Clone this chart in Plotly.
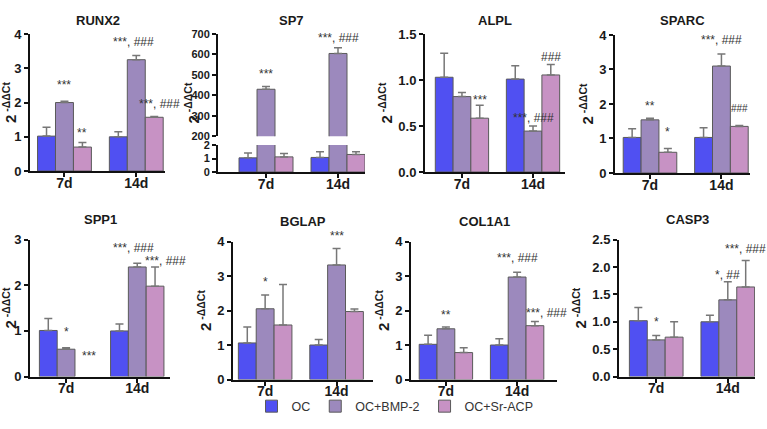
import plotly.graph_objects as go

W, H = 767, 429
FONT = "Liberation Sans, Arial, sans-serif"

groups = ["7d", "14d"]
series = ["OC", "OC+BMP-2", "OC+Sr-ACP"]
colors = ["#5050F2", "#9C89BD", "#C792C4"]

genes = ["RUNX2", "SP7", "ALPL", "SPARC", "SPP1", "BGLAP", "COL1A1", "CASP3"]

# mean values: [series][group]  (groups: 7d, 14d)
runx2_mean = [[1.02, 1.00], [2.00, 3.25], [0.70, 1.57]]
runx2_err = [[0.26, 0.15], [0.04, 0.12], [0.13, 0.02]]
sp7_mean = [[1.05, 1.08], [430, 605], [1.12, 1.30]]
sp7_err = [[0.35, 0.42], [14, 28], [0.25, 0.20]]
alpl_mean = [[1.03, 1.01], [0.82, 0.445], [0.585, 1.055]]
alpl_err = [[0.26, 0.145], [0.045, 0.055], [0.14, 0.115]]
sparc_mean = [[1.03, 1.03], [1.54, 3.10], [0.60, 1.35]]
sparc_err = [[0.25, 0.28], [0.05, 0.35], [0.11, 0.03]]
spp1_mean = [[1.01, 1.00], [0.60, 2.40], [0.0, 1.98]]
spp1_err = [[0.26, 0.15], [0.03, 0.08], [0.0, 0.42]]
bglap_mean = [[1.06, 1.00], [2.05, 3.32], [1.58, 1.97]]
bglap_err = [[0.46, 0.16], [0.40, 0.48], [1.17, 0.07]]
col1a1_mean = [[1.02, 1.00], [1.47, 2.97], [0.78, 1.56]]
col1a1_err = [[0.26, 0.18], [0.05, 0.14], [0.14, 0.12]]
casp3_mean = [[1.02, 1.00], [0.67, 1.40], [0.72, 1.635]]
casp3_err = [[0.24, 0.12], [0.08, 0.33], [0.28, 0.485]]

means = dict(RUNX2=runx2_mean, SP7=sp7_mean, ALPL=alpl_mean, SPARC=sparc_mean,
             SPP1=spp1_mean, BGLAP=bglap_mean, COL1A1=col1a1_mean, CASP3=casp3_mean)
errs = dict(RUNX2=runx2_err, SP7=sp7_err, ALPL=alpl_err, SPARC=sparc_err,
            SPP1=spp1_err, BGLAP=bglap_err, COL1A1=col1a1_err, CASP3=casp3_err)

# significance labels: (gene, group index, series index, y level, text)
sig_labels = [
    ("RUNX2", 0, 1, 2.50, "***"), ("RUNX2", 0, 2, 1.10, "**"),
    ("RUNX2", 1, 1, 3.78, "***, ###"), ("RUNX2", 1, 2, 1.97, "***, ###"),
    ("SP7", 0, 1, 507, "***"), ("SP7", 1, 1, 680, "***, ###"),
    ("ALPL", 0, 2, 0.78, "***"), ("ALPL", 1, 1, 0.59, "***, ###"), ("ALPL", 1, 2, 1.25, "###"),
    ("SPARC", 0, 1, 1.95, "**"), ("SPARC", 0, 2, 1.18, "*"),
    ("SPARC", 1, 1, 3.86, "***, ###"), ("SPARC", 1, 2, 1.86, "###"),
    ("SPP1", 0, 1, 0.98, "*"), ("SPP1", 0, 2, 0.46, "***"),
    ("SPP1", 1, 1, 2.81, "***, ###"), ("SPP1", 1, 2, 2.53, "***, ###"),
    ("BGLAP", 0, 1, 2.84, "*"), ("BGLAP", 1, 1, 3.98, "***"),
    ("COL1A1", 0, 1, 1.86, "**"), ("COL1A1", 1, 1, 3.51, "***, ###"),
    ("COL1A1", 1, 2, 1.93, "***, ###"),
    ("CASP3", 0, 1, 0.99, "*"), ("CASP3", 1, 1, 1.86, "*, ##"), ("CASP3", 1, 2, 2.32, "***, ###"),
]

# ---------------- layout geometry (pixels) ----------------
# gene: (x0, x1, ytop, ybottom, yrange, dtick, tickformat, xrange)
panels = {
    "RUNX2": (30, 165, 28, 170, [0, 4], 1, "d", [-0.48, 1.40]),
    "SP7": (218, 365, 143, 171, [0, 2], 1, "d", [-0.667, 1.375]),
    "ALPL": (425, 565, 28, 171, [0, 1.5], 0.5, ".1f", [-0.52, 1.45]),
    "SPARC": (615, 750, 29, 172, [0, 4], 1, "d", [-0.49, 1.40]),
    "SPP1": (30, 170, 241, 383, [0, 3], 1, "d", [-0.507, 1.46]),
    "BGLAP": (233, 373, 243, 386, [0, 4], 1, "d", [-0.45, 1.51]),
    "COL1A1": (411, 557, 243, 386, [0, 4], 1, "d", [-0.49, 1.56]),
    "CASP3": (619, 755, 241, 383, [0, 2.5], 0.5, ".1f", [-0.52, 1.38]),
}
sp7_upper = (28, 134, [200, 700], 100)
title_y = {"RUNX2": 14, "SP7": 14, "ALPL": 14, "SPARC": 14,
           "SPP1": 220, "BGLAP": 222, "COL1A1": 222, "CASP3": 220}
nudge_px = {("RUNX2", 1, 2): 5, ("RUNX2", 1, 1): -3, ("SPP1", 0, 2): 5,
            ("SPP1", 1, 1): -4, ("SPP1", 1, 2): 10, ("COL1A1", 1, 2): 12}
shift_px = {("BGLAP", 1, 1): 6}


def px(x):
    return x / W


def py(y):
    return 1 - y / H


def shown(vals):
    # a zero-height bar is not drawn in the reference
    return [None if v == 0 else v for v in vals]


fig = go.Figure()
layout = {}
annotations = []
bar_w = 0.25

ytitle = "<b>2</b><sup><b> -ΔΔCt</b></sup>"
ytitle_font = dict(family=FONT, size=15, color="#1a1a1a")
tick_common = dict(showline=True, linecolor="#111", linewidth=2, ticks="outside",
                   ticklen=4, tickwidth=1.5, tickcolor="#111", showgrid=False,
                   zeroline=False, fixedrange=True)


def add_bars(g, xa, ya, legend):
    for s in range(3):
        fig.add_trace(go.Bar(
            x=[0, 1], y=shown(means[g][s]), name=series[s], showlegend=legend,
            marker=dict(color=colors[s], line=dict(color="#5a5a5a", width=1)),
            error_y=dict(type="data", array=errs[g][s], arrayminus=[0, 0], symmetric=False,
                         color="#777777", thickness=1.5, width=4),
            xaxis=xa, yaxis=ya, offsetgroup=str(s),
        ))


for i, g in enumerate(genes):
    n = i + 1
    xa, ya = f"x{n}", f"y{n}"
    x0, x1, yt, yb, yr, dt, tf, xr = panels[g]
    add_bars(g, xa, ya, i == 0)
    layout[f"xaxis{n}"] = dict(domain=[px(x0), px(x1)], anchor=ya, range=xr,
                               tickvals=[0, 1], ticktext=[f"<b>{t}</b>" for t in groups],
                               ticklabelstandoff=-6,
                               tickfont=dict(family=FONT, size=14, color="#1a1a1a"),
                               **tick_common)
    ydict = dict(domain=[py(yb), py(yt)], anchor=xa, range=yr, dtick=dt, tick0=0,
                 tickformat=tf,
                 tickfont=dict(family=FONT, size=13 if g != "SP7" else 11,
                               color="#1a1a1a", weight="bold"),
                 **tick_common)
    if g != "SP7":
        ydict["title"] = dict(text=ytitle, font=ytitle_font, standoff=2)
    layout[f"yaxis{n}"] = ydict
    annotations.append(dict(text=f"<b>{g}</b>", x=px((x0 + x1) / 2), y=py(title_y[g]),
                            xref="paper", yref="paper", showarrow=False,
                            xanchor="center", yanchor="middle",
                            font=dict(family=FONT, size=13, color="#1a1a1a")))

# SP7 upper segment (broken axis)
n_sp7 = genes.index("SP7") + 1
ut, ub, ur, udt = sp7_upper
add_bars("SP7", f"x{n_sp7}", "y9", False)
layout["yaxis9"] = dict(domain=[py(ub), py(ut)], anchor=f"x{n_sp7}", range=ur, dtick=udt,
                        tick0=0,
                        tickfont=dict(family=FONT, size=11, color="#1a1a1a", weight="bold"),
                        **tick_common)
x0s = panels["SP7"][0]
annotations.append(dict(text=ytitle, x=px(x0s - 26), y=py(100), xref="paper", yref="paper",
                        textangle=-90, showarrow=False, xanchor="center", yanchor="middle",
                        font=ytitle_font))

# significance annotations
for (g, gi, si, yv, txt) in sig_labels:
    n = genes.index(g) + 1
    yref = "y9" if g == "SP7" else f"y{n}"
    x0, x1 = panels[g][0], panels[g][1]
    xr = panels[g][7]
    unit_px = (x1 - x0) / (xr[1] - xr[0])
    dx = nudge_px.get((g, gi, si), 0) / unit_px
    size = 10 if (g == "SPARC" and txt == "###") else 12
    annotations.append(dict(text=txt, x=gi + (si - 1) * bar_w + dx, y=yv,
                            xref=f"x{n}", yref=yref, showarrow=False,
                            xanchor="center", yanchor="middle",
                            yshift=shift_px.get((g, gi, si), 0),
                            font=dict(family=FONT, size=size, color="#333333")))

fig.update_layout(
    width=W, height=H, margin=dict(l=0, r=0, t=0, b=0),
    paper_bgcolor="white", plot_bgcolor="white",
    barmode="group", bargap=0.25, bargroupgap=0,
    showlegend=True,
    legend=dict(orientation="h", x=0.515, xanchor="center", y=py(414), yanchor="middle",
                font=dict(family=FONT, size=12.5, color="#333333"), itemwidth=30,
                bgcolor="rgba(0,0,0,0)"),
    annotations=annotations,
    **layout,
)

fig.write_html("out.html")
